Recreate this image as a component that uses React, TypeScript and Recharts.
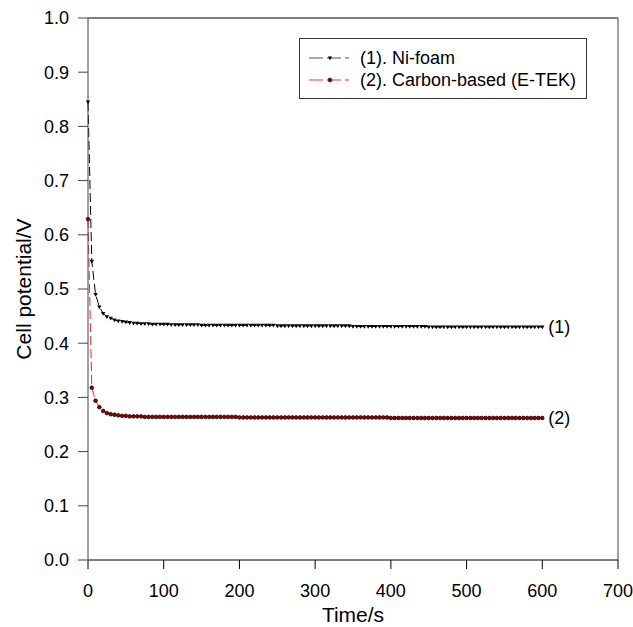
import { LineChart, Line, XAxis, YAxis, Legend, ReferenceLine, ReferenceDot } from "recharts";

const FONT = "'Liberation Sans', Arial, Helvetica, sans-serif";

// time in seconds, one reading every 5 s
const times = [
  0, 5, 10, 15, 20, 25, 30, 35, 40, 45,
  50, 55, 60, 65, 70, 75, 80, 85, 90, 95,
  100, 105, 110, 115, 120, 125, 130, 135, 140, 145,
  150, 155, 160, 165, 170, 175, 180, 185, 190, 195,
  200, 205, 210, 215, 220, 225, 230, 235, 240, 245,
  250, 255, 260, 265, 270, 275, 280, 285, 290, 295,
  300, 305, 310, 315, 320, 325, 330, 335, 340, 345,
  350, 355, 360, 365, 370, 375, 380, 385, 390, 395,
  400, 405, 410, 415, 420, 425, 430, 435, 440, 445,
  450, 455, 460, 465, 470, 475, 480, 485, 490, 495,
  500, 505, 510, 515, 520, 525, 530, 535, 540, 545,
  550, 555, 560, 565, 570, 575, 580, 585, 590, 595,
  600,
];

// (1) Ni-foam cell potential, V
const niFoam = [
  0.845, 0.551, 0.49, 0.467, 0.455, 0.449, 0.446, 0.443, 0.441, 0.44,
  0.439, 0.438, 0.437, 0.437, 0.436, 0.436, 0.436, 0.435, 0.435, 0.435,
  0.435, 0.435, 0.434, 0.434, 0.434, 0.434, 0.434, 0.434, 0.434, 0.434,
  0.433, 0.433, 0.433, 0.433, 0.433, 0.433, 0.433, 0.433, 0.433, 0.433,
  0.433, 0.433, 0.433, 0.433, 0.433, 0.433, 0.433, 0.433, 0.433, 0.433,
  0.432, 0.432, 0.432, 0.432, 0.432, 0.432, 0.432, 0.432, 0.432, 0.432,
  0.432, 0.432, 0.432, 0.432, 0.432, 0.432, 0.432, 0.432, 0.432, 0.432,
  0.431, 0.431, 0.431, 0.431, 0.431, 0.431, 0.431, 0.431, 0.431, 0.431,
  0.431, 0.431, 0.431, 0.431, 0.431, 0.431, 0.431, 0.431, 0.431, 0.431,
  0.43, 0.43, 0.43, 0.43, 0.43, 0.43, 0.43, 0.43, 0.43, 0.43,
  0.43, 0.43, 0.43, 0.43, 0.43, 0.43, 0.43, 0.43, 0.43, 0.43,
  0.43, 0.43, 0.43, 0.43, 0.43, 0.43, 0.43, 0.43, 0.43, 0.43,
  0.43,
];

// (2) Carbon-based (E-TEK) cell potential, V
const carbonEtek = [
  0.629, 0.318, 0.294, 0.282, 0.275, 0.271, 0.269, 0.268, 0.267, 0.266,
  0.266, 0.265, 0.265, 0.265, 0.265, 0.264, 0.264, 0.264, 0.264, 0.264,
  0.264, 0.264, 0.264, 0.264, 0.264, 0.264, 0.264, 0.264, 0.264, 0.264,
  0.264, 0.264, 0.264, 0.264, 0.264, 0.264, 0.264, 0.264, 0.264, 0.264,
  0.263, 0.263, 0.263, 0.263, 0.263, 0.263, 0.263, 0.263, 0.263, 0.263,
  0.263, 0.263, 0.263, 0.263, 0.263, 0.263, 0.263, 0.263, 0.263, 0.263,
  0.263, 0.263, 0.263, 0.263, 0.263, 0.263, 0.263, 0.263, 0.263, 0.263,
  0.263, 0.263, 0.263, 0.263, 0.263, 0.263, 0.263, 0.263, 0.263, 0.263,
  0.262, 0.262, 0.262, 0.262, 0.262, 0.262, 0.262, 0.262, 0.262, 0.262,
  0.262, 0.262, 0.262, 0.262, 0.262, 0.262, 0.262, 0.262, 0.262, 0.262,
  0.262, 0.262, 0.262, 0.262, 0.262, 0.262, 0.262, 0.262, 0.262, 0.262,
  0.262, 0.262, 0.262, 0.262, 0.262, 0.262, 0.262, 0.262, 0.262, 0.262,
  0.262,
];

const xTicks = [0, 100, 200, 300, 400, 500, 600, 700];
const yTicks = [0, 0.1, 0.2, 0.3, 0.4, 0.5, 0.6, 0.7, 0.8, 0.9, 1.0];
const seriesNames = ["(1). Ni-foam", "(2). Carbon-based (E-TEK)"];
const endLabels = ["(1)", "(2)"];

const data = times.map((t, i) => ({ time: t, ni: niFoam[i], carbon: carbonEtek[i] }));

const TriangleDot = (props: any) => {
  const { cx, cy, index } = props;
  if (cx == null || cy == null) return <g key={`t-${index}`} />;
  return (
    <path
      key={`t-${index}`}
      d={`M${cx - 2.2},${cy - 1.5} L${cx + 2.2},${cy - 1.5} L${cx},${cy + 2.3} Z`}
      fill="#000"
    />
  );
};

const DiamondDot = (props: any) => {
  const { cx, cy, index } = props;
  if (cx == null || cy == null) return <g key={`d-${index}`} />;
  return <circle key={`d-${index}`} cx={cx} cy={cy} r={1.9} fill="#900000" stroke="#000" strokeWidth={0.6} />;
};

const YTitle = ({ viewBox }: any) => {
  const x = viewBox.x + 23;
  const y = viewBox.y + viewBox.height / 2;
  return (
    <text
      x={x}
      y={y}
      transform={`rotate(-90 ${x} ${y})`}
      textAnchor="middle"
      dominantBaseline="central"
      fontSize={21}
      fontFamily={FONT}
      fill="#000"
    >
      Cell potential/V
    </text>
  );
};

const LegendBox = () => (
  <div
    style={{
      border: "1px solid #333",
      background: "#fff",
      padding: "8px 0 7px 9px",
      fontFamily: FONT,
      fontSize: 18,
      color: "#000",
      boxSizing: "border-box",
      width: 288,
      height: 61,
    }}
  >
    {seriesNames.map((name, i) => (
      <div key={name} style={{ display: "flex", alignItems: "center", height: 22 }}>
        <svg width={42} height={10} style={{ marginRight: 9 }}>
          <line
            x1={0}
            y1={5}
            x2={42}
            y2={5}
            stroke={i === 0 ? "#555" : "#ff3030"}
            strokeWidth={1.2}
            strokeDasharray="14 4 14 4 4 4"
          />
          {i === 0 ? (
            <path d="M18.8,3.5 L23.2,3.5 L21,7.3 Z" fill="#000" />
          ) : (
            <circle cx={21} cy={5} r={1.9} fill="#900000" stroke="#000" strokeWidth={0.6} />
          )}
        </svg>
        <span>{name}</span>
      </div>
    ))}
  </div>
);

const App = () => {
  return (
    <div style={{ position: "absolute", left: 0, top: 0, background: "#fff" }}>
      <LineChart width={633} height={627} data={data} margin={{ top: 18, right: 15, bottom: 0, left: 0 }}>
        <XAxis
          dataKey="time"
          type="number"
          domain={[0, 700]}
          ticks={xTicks}
          height={67}
          tickSize={9}
          tickMargin={15}
          stroke="#000"
          tick={{ fontSize: 18, fontFamily: FONT, fill: "#000" }}
          label={{ value: "Time/s", position: "insideBottom", offset: 5, fontSize: 21, fontFamily: FONT, fill: "#000" }}
        />
        <YAxis
          type="number"
          domain={[0, 1]}
          ticks={yTicks}
          width={88}
          tickSize={10}
          tickMargin={9}
          stroke="#444"
          tickFormatter={(v: number) => v.toFixed(1)}
          tick={{ fontSize: 18, fontFamily: FONT, fill: "#000" }}
          label={<YTitle />}
        />
        <ReferenceLine y={1} stroke="#000" />
        <ReferenceLine x={700} stroke="#444" />
        <Line
          dataKey="ni"
          name={seriesNames[0]}
          stroke="#000"
          strokeWidth={1}
          strokeDasharray="9 4"
          dot={TriangleDot}
          activeDot={false}
          isAnimationActive={false}
        />
        <Line
          dataKey="carbon"
          name={seriesNames[1]}
          stroke="#ff2020"
          strokeWidth={1}
          strokeDasharray="9 4"
          dot={DiamondDot}
          activeDot={false}
          isAnimationActive={false}
        />
        <ReferenceDot
          x={times[times.length - 1]}
          y={niFoam[niFoam.length - 1]}
          r={0}
          fill="none"
          stroke="none"
          label={{ value: endLabels[0], position: "right", offset: 6, fontSize: 18, fontFamily: FONT, fill: "#000" }}
        />
        <ReferenceDot
          x={times[times.length - 1]}
          y={carbonEtek[carbonEtek.length - 1]}
          r={0}
          fill="none"
          stroke="none"
          label={{ value: endLabels[1], position: "right", offset: 6, fontSize: 18, fontFamily: FONT, fill: "#000" }}
        />
        <Legend
          layout="vertical"
          align="center"
          verticalAlign="middle"
          wrapperStyle={{ left: 299, top: 38, width: 288 }}
          content={<LegendBox />}
        />
      </LineChart>
    </div>
  );
};

export default App;
